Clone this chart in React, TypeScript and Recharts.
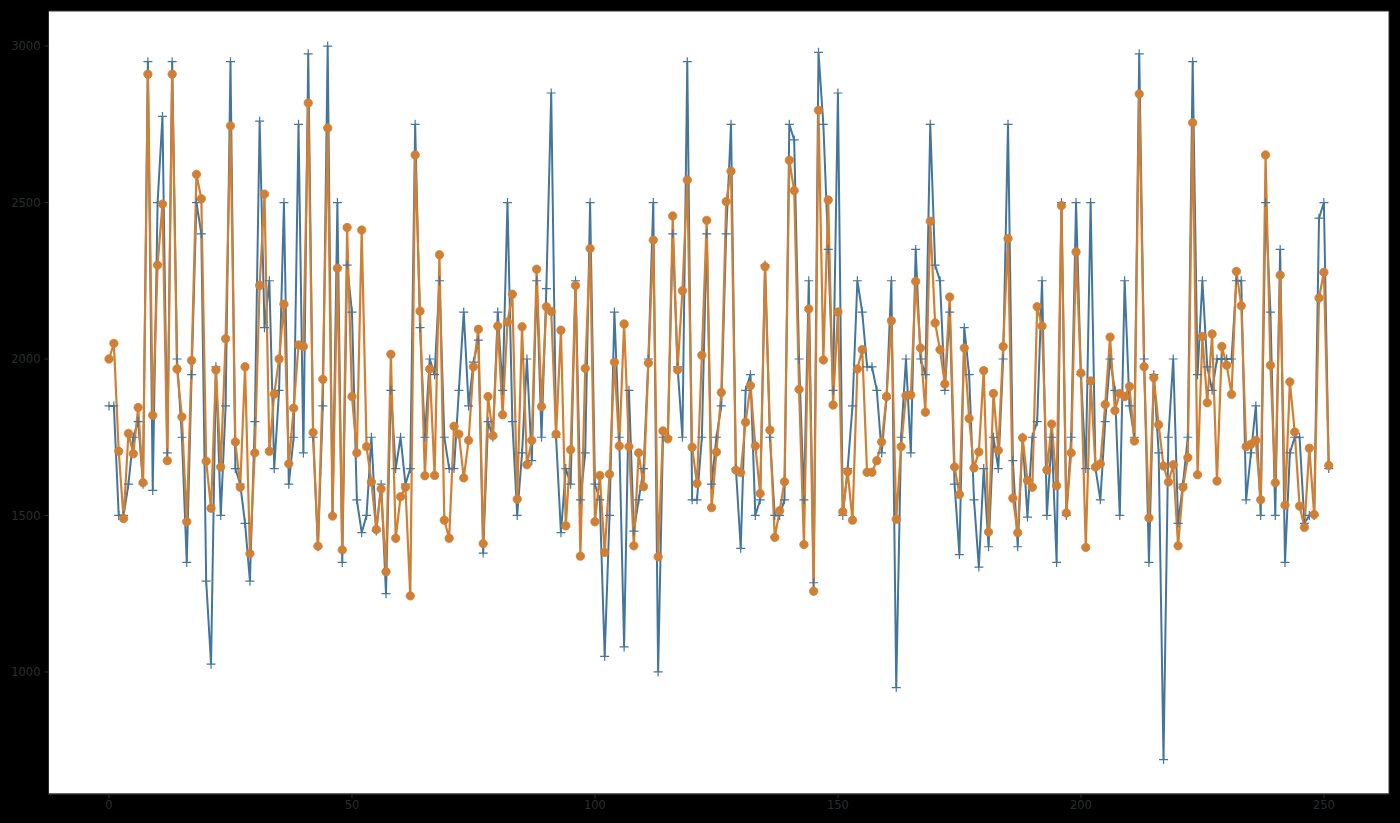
import { CartesianGrid, Line, LineChart, ReferenceArea, XAxis, YAxis } from "recharts";

const blueValues = [
  1850, 1850, 1500, 1500, 1600, 1750, 1800, 1600, 2950, 1580, 2500, 2775, 1700, 2950, 2000, 1750, 1350, 1950, 2500,
  2400, 1290, 1025, 1975, 1500, 1850, 2950, 1650, 1600, 1475, 1290, 1800, 2760, 2100, 2250, 1650, 1900, 2500, 1600, 1750,
  2750, 1700, 2975, 1750, 1400, 1850, 3000, 1500, 2500, 1350, 2300, 2150, 1550, 1445, 1500, 1750, 1450, 1600, 1250, 1900,
  1650, 1750, 1600, 1650, 2750, 2100, 1750, 2000, 1950, 2250, 1750, 1650, 1650, 1900, 2150, 1850, 1990, 2060, 1380, 1800,
  1750, 2150, 1900, 2500, 1800, 1500, 1700, 2000, 1675, 2250, 1750, 2225, 2850, 1750, 1445, 1650, 1600, 2250, 1550, 1700,
  2500, 1600, 1550, 1050, 1500, 2150, 1750, 1080, 1900, 1450, 1550, 1650, 2000, 2500, 1000, 1750, 1750, 2400, 1975, 1750,
  2950, 1550, 1550, 1750, 2400, 1600, 1750, 1850, 2400, 2750, 1650, 1395, 1900, 1950, 1500, 1550, 2300, 1750, 1500, 1500,
  1550, 2750, 2700, 2000, 1550, 2250, 1285, 2980, 2750, 2350, 1900, 2850, 1500, 1650, 1850, 2250, 2150, 1975, 1975, 1900,
  1700, 1875, 2250, 950, 1750, 2000, 1700, 2350, 2000, 1950, 2750, 2300, 2250, 1900, 2150, 1600, 1375, 2100, 1950, 1550,
  1335, 1650, 1400, 1750, 1650, 2000, 2750, 1675, 1400, 1750, 1495, 1750, 1800, 2250, 1500, 1750, 1350, 2500, 1500, 1750,
  2500, 1950, 1650, 2500, 1650, 1550, 1800, 2000, 1900, 1500, 2250, 1850, 1750, 2975, 2000, 1350, 1950, 1700, 720, 1750,
  2000, 1475, 1600, 1750, 2950, 1950, 2250, 1975, 1900, 2000, 2000, 2000, 2000, 2250, 2250, 1550, 1700, 1850, 1500, 2500,
  2150, 1500, 2350, 1350, 1700, 1750, 1750, 1475, 1500, 1500, 2450, 2500, 1650,
];

const orangeValues = [
  2000, 2050, 1705, 1490, 1762, 1697, 1845, 1605, 2910, 1820, 2300, 2495, 1675, 2910, 1968, 1815, 1480, 1995, 2590, 2512,
  1673, 1523, 1965, 1655, 2065, 2745, 1735, 1590, 1975, 1378, 1700, 2235, 2527, 1705, 1888, 2000, 2175, 1665, 1843, 2045,
  2040, 2818, 1765, 1402, 1935, 2738, 1498, 2290, 1390, 2420, 1880, 1700, 2412, 1720, 1607, 1455, 1585, 1320, 2015, 1427,
  1560, 1590, 1243, 2652, 2153, 1627, 1968, 1628, 2333, 1485, 1427, 1785, 1760, 1620, 1740, 1975, 2095, 1410, 1880, 1755,
  2105, 1822, 2118, 2207, 1552, 2103, 1662, 1740, 2287, 1848, 2167, 2152, 1760, 2092, 1467, 1710, 2235, 1370, 1970, 2353,
  1480, 1628, 1382, 1632, 1990, 1722, 2112, 1720, 1403, 1700, 1592, 1987, 2380, 1368, 1770, 1745, 2457, 1965, 2218, 2572,
  1718, 1602, 2012, 2443, 1525, 1703, 1893, 2503, 2600, 1645, 1637, 1798, 1915, 1722, 1570, 2295, 1773, 1430, 1515, 1608,
  2635, 2538, 1903, 1407, 2160, 1258, 2795, 1997, 2508, 1853, 2150, 1512, 1640, 1485, 1968, 2030, 1638, 1638, 1675, 1735,
  1880, 2122, 1488, 1720, 1883, 1885, 2248, 2035, 1830, 2440, 2115, 2030, 1920, 2198, 1655, 1567, 2035, 1810, 1652, 1703,
  1963, 1447, 1890, 1708, 2040, 2385, 1555, 1445, 1748, 1612, 1590, 2167, 2105, 1645, 1792, 1595, 2490, 1508, 1700, 2342,
  1955, 1398, 1930, 1655, 1665, 1855, 2070, 1835, 1890, 1880, 1912, 1738, 2847, 1975, 1492, 1940, 1790, 1658, 1607, 1662,
  1403, 1590, 1685, 2755, 1630, 2072, 1860, 2080, 1610, 2040, 1980, 1887, 2280, 2170, 1720, 1728, 1740, 1550, 2652, 1980,
  1605, 2268, 1533, 1927, 1767, 1530, 1462, 1715, 1503, 2195, 2277, 1660,
];

const xTicks = [0, 50, 100, 150, 200, 250];
const yTicks = [1000, 1500, 2000, 2500, 3000];

const rows = orangeValues.map((orange, index) => ({ index, blue: blueValues[index], orange }));

const BLUE = "#44769b";
const ORANGE = "#d08035";
const TICK = "#2a2e31";

const PlusDot = ({ cx, cy }: { cx?: number; cy?: number }) => (
  <path
    d={`M${(cx ?? 0) - 4.5},${cy}H${(cx ?? 0) + 4.5}M${cx},${(cy ?? 0) - 4.5}V${(cy ?? 0) + 4.5}`}
    stroke={BLUE}
    strokeWidth={1.2}
    fill="none"
  />
);

export default function App() {
  const tickStyle = { fill: TICK, fontFamily: "DejaVu Sans", fontSize: 11.5 };
  return (
    <div style={{ position: "fixed", left: 0, top: 0, width: 1400, height: 823, background: "#000" }}>
      <LineChart width={1400} height={823} data={rows} margin={{ top: 11, right: 11, bottom: 0, left: 0 }}>
        <CartesianGrid horizontal={false} vertical={false} fill="#fff" />
        <XAxis
          dataKey="index"
          type="number"
          domain={[-12.45, 263.4]}
          ticks={xTicks}
          height={29}
          tick={tickStyle}
          tickSize={4}
          tickMargin={3}
          stroke={TICK}
          allowDataOverflow
        />
        <YAxis
          type="number"
          domain={[610, 3112]}
          ticks={yTicks}
          width={48.5}
          tick={tickStyle}
          tickSize={4}
          tickMargin={4}
          stroke={TICK}
          allowDataOverflow
        />
        <ReferenceArea x1={-12.45} x2={263.4} y1={610} y2={3112} fill="none" stroke="#333" />
        <Line
          dataKey="blue"
          stroke={BLUE}
          strokeWidth={2}
          dot={(props: any) => <PlusDot key={props.index} cx={props.cx} cy={props.cy} />}
          activeDot={false}
          isAnimationActive={false}
        />
        <Line
          dataKey="orange"
          stroke={ORANGE}
          strokeWidth={2.2}
          dot={{ r: 4.2, fill: ORANGE, stroke: ORANGE, strokeWidth: 0.8, fillOpacity: 1 }}
          activeDot={false}
          isAnimationActive={false}
        />
      </LineChart>
    </div>
  );
}
